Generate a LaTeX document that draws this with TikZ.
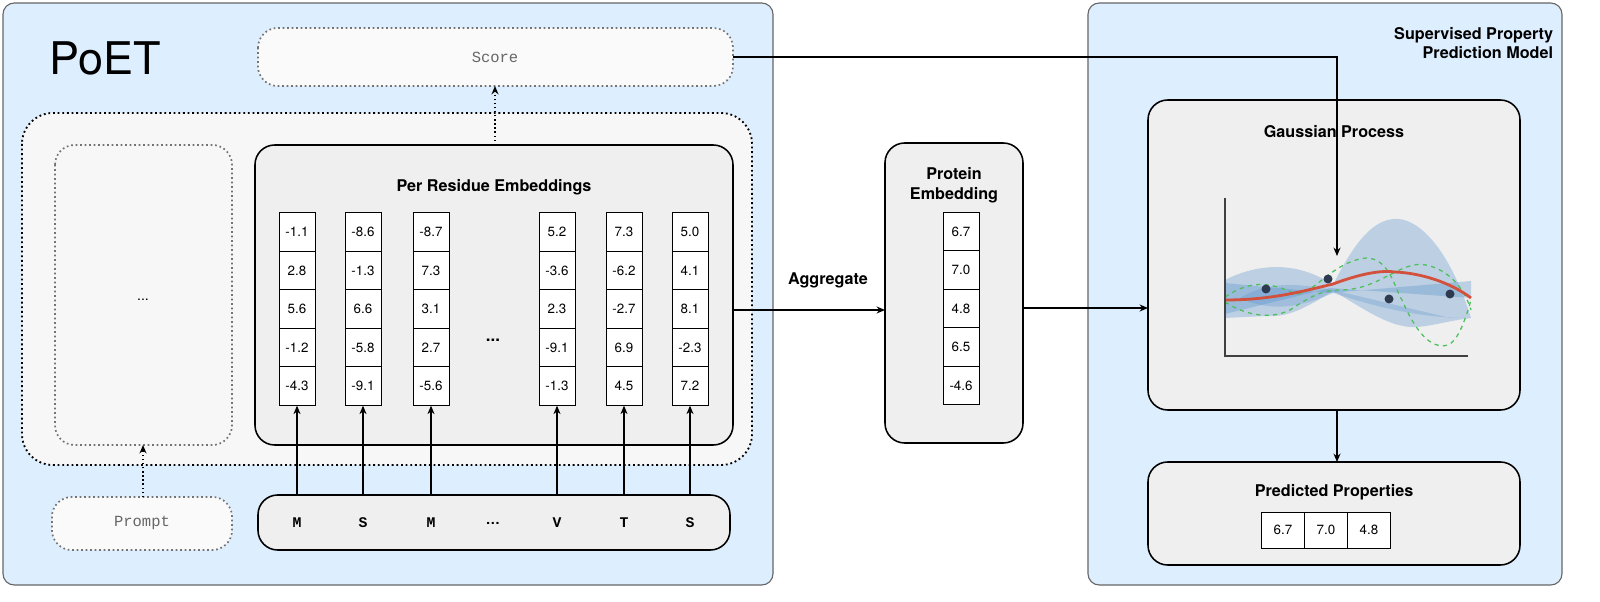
\documentclass[tikz,border=0pt]{standalone}
\usepackage{fontspec}
\setmainfont{TeX Gyre Heros}
\setmonofont{Liberation Mono}
\usetikzlibrary{arrows.meta}
\definecolor{panel}{HTML}{DDEEFF}
\definecolor{inner}{HTML}{EFEFF0}
\definecolor{gpblue}{HTML}{4A8AC8}
\definecolor{gpred}{HTML}{D2503C}
\definecolor{gpgreen}{HTML}{4CC05A}
\definecolor{dotc}{HTML}{2E3A50}
\tikzset{
  panelbox/.style={draw=black!60, fill=panel, rounded corners=8pt, line width=0.8pt},
  solidbox/.style={draw=black, fill=inner, rounded corners=14pt, line width=1.1pt},
  dotbox/.style={draw=black!55, fill=white!97!black, rounded corners=14pt, dotted, line width=1.2pt},
  cell/.style={draw=black, fill=white, minimum width=0.9cm, minimum height=0.9625cm, inner sep=0pt, font=\fontsize{9.5}{10}\selectfont, line width=0.6pt},
  arr/.style={-{Stealth[length=6pt,width=5pt]}, line width=0.9pt},
  darr/.style={-{Stealth[length=6pt,width=5pt]}, line width=0.9pt, dotted},
  ttl/.style={font=\fontsize{11.5}{14}\selectfont\bfseries, align=center},
  seq/.style={font=\ttfamily\bfseries\fontsize{10.5}{12}\selectfont},
}
\begin{document}
\begin{tikzpicture}[x=0.025cm,y=-0.025cm]
\useasboundingbox (0,0) rectangle (1600,602);
% panels
\draw[panelbox] (3,3) rectangle (773,585);
\draw[panelbox] (1088,3) rectangle (1562,585);
\node[font=\fontsize{32}{34}\selectfont, anchor=west] (poet) at (45,58) {PoET};
\node[ttl, anchor=east, align=right] (spm) at (1558,43) {Supervised Property\\Prediction Model};
% score
\draw[dotbox, fill=white!98!black] (258,28) rectangle (733,86);
\node[font=\ttfamily\fontsize{11}{12}\selectfont, text=black!60] (score) at (495,57) {Score};
\coordinate (scoreR) at (733,57);
\coordinate (scoreB) at (495,86);
% big dotted
\draw[dotted, line width=1.3pt, fill=white!97!black, rounded corners=22pt] (22,113) rectangle (752,465);
\draw[dotbox] (55,145) rectangle (232,445);
\node (ldots) at (143,300) {...};
\coordinate (leftB) at (143,445);
% per residue
\draw[solidbox] (255,145) rectangle (733,445);
\node[ttl] (pre) at (494,187) {Per Residue Embeddings};
\coordinate (preT) at (495,145);
\coordinate (preR) at (733,310);
\node[font=\bfseries\large] (cdots) at (493,340) {...};
\foreach \x/\a/\b/\c/\d/\e [count=\i] in {297/-1.1/2.8/5.6/-1.2/-4.3, 363/-8.6/-1.3/6.6/-5.8/-9.1, 431/-8.7/7.3/3.1/2.7/-5.6, 557/5.2/-3.6/2.3/-9.1/-1.3, 624/7.3/-6.2/-2.7/6.9/4.5, 690/5.0/4.1/8.1/-2.3/7.2}{
  \node[cell] (c\i a) at (\x,232) {\a};
  \node[cell] (c\i b) at (\x,270.5) {\b};
  \node[cell] (c\i c) at (\x,309) {\c};
  \node[cell] (c\i d) at (\x,347.5) {\d};
  \node[cell] (c\i e) at (\x,386) {\e};
}
% sequence
\draw[solidbox, fill=inner] (258,495) rectangle (730,550);
\foreach \x/\l [count=\i] in {297/M,363/S,431/M,557/V,624/T,690/S}{
  \node[seq] (s\i) at (\x,523) {\l};
  \draw[arr] (\x,495) -- (c\i e.south);
}
\node[font=\bfseries] (sdots) at (493,523) {…};
% prompt
\draw[dotbox, fill=white!98!black] (52,497) rectangle (232,550);
\node[font=\ttfamily\fontsize{11}{12}\selectfont, text=black!60] (prompt) at (142,523) {Prompt};
\draw[darr] (143,497) -- (leftB);
\draw[darr] (preT) -- (scoreB);
% protein embedding
\draw[solidbox] (885,143) rectangle (1023,443);
\node[ttl] (pe) at (954,185) {Protein\\Embedding};
\foreach \v [count=\i] in {6.7,7.0,4.8,6.5,-4.6}{
  \node[cell] (p\i) at (961,193+\i*38.5) {\v};
}
\coordinate (peL) at (885,310);
\coordinate (peR) at (1023,308);
\draw[arr] (preR) -- (peL);
\node[font=\fontsize{11.5}{14}\selectfont\bfseries] (agg) at (828,280) {Aggregate};
% GP
\draw[solidbox] (1148,100) rectangle (1520,410);
\node[ttl] (gp) at (1334,132) {Gaussian Process};
\draw[arr] (peR) -- (1148,308);
% plot
\begin{scope}
\fill[gpblue, opacity=0.3] (1225,280) .. controls (1260,262) and (1300,262) .. (1333,285) .. controls (1360,230) and (1380,218) .. (1398,219) .. controls (1420,220) and (1450,250) .. (1471,318) .. controls (1440,322) and (1420,330) .. (1403,326) .. controls (1380,322) and (1350,300) .. (1333,291) .. controls (1310,305) and (1290,318) .. (1266,316) -- (1225,318) -- cycle;
\fill[gpblue, opacity=0.3] (1225,283) -- (1330,293) -- (1471,281) -- (1471,298) -- (1330,288) -- (1225,314) -- cycle;
\fill[gpblue, opacity=0.25] (1240,298) .. controls (1270,280) and (1300,284) .. (1333,290) -- (1450,318) -- (1471,318) .. controls (1420,318) and (1380,308) .. (1333,293) .. controls (1300,308) and (1270,312) .. (1240,298) -- cycle;
\draw[gpgreen, dashed, line width=0.9pt] (1225,297) .. controls (1250,280) and (1270,282) .. (1293,293) .. controls (1310,300) and (1330,262) .. (1366,258) .. controls (1390,258) and (1395,290) .. (1402,300) .. controls (1415,330) and (1430,350) .. (1448,345) .. controls (1460,340) and (1468,310) .. (1471,300);
\draw[gpgreen, dashed, line width=0.9pt] (1225,302) .. controls (1245,315) and (1270,320) .. (1290,310) .. controls (1305,300) and (1320,290) .. (1340,290) .. controls (1380,290) and (1400,260) .. (1426,265) .. controls (1450,270) and (1465,290) .. (1471,310);
\draw[gpred, line width=2pt] (1225,300) .. controls (1270,300) and (1300,292) .. (1333,284) .. controls (1360,274) and (1380,270) .. (1395,272) .. controls (1420,273) and (1450,282) .. (1471,298);
\foreach \px/\py in {1266/289, 1328/279, 1389/299, 1450/294}{ \fill[dotc] (\px,\py) circle (4.5); }
\draw[black!75, line width=1.2pt] (1225,198) -- (1225,356) -- (1468,356);
\end{scope}
\draw[arr] (scoreR) -- (1337,57) -- (1337,256);
% predicted
\draw[solidbox] (1148,462) rectangle (1520,565);
\node[ttl] (pp) at (1334,492) {Predicted Properties};
\draw[arr] (1337,410) -- (1337,462);
\foreach \v/\x [count=\i] in {6.7/1283,7.0/1326,4.8/1369}{
  \node[cell, minimum width=1.075cm, minimum height=0.9cm] (q\i) at (\x,530) {\v};
}
\end{tikzpicture}
\end{document}
